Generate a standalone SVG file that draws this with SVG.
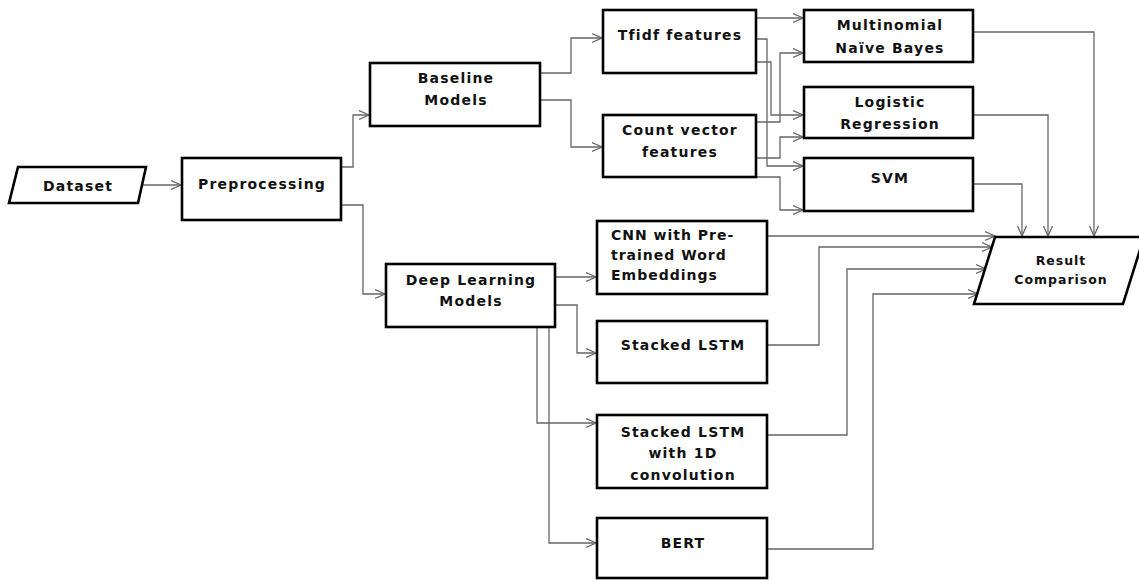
<svg xmlns="http://www.w3.org/2000/svg" width="1139" height="580" viewBox="0 0 1139 580">
<style>
.box{fill:#fff;stroke:#000;stroke-width:2.6}
.t{font-family:"DejaVu Sans","Open Sans",sans-serif;font-weight:bold;font-size:14px;letter-spacing:1.2px;fill:#111;text-anchor:middle}
.ts{font-size:12.5px;letter-spacing:1px}
.tl{text-anchor:start;letter-spacing:1px}
.c{fill:none;stroke:#666;stroke-width:1.3}
</style>
<defs>
<marker id="a" markerUnits="userSpaceOnUse" markerWidth="12" markerHeight="12" refX="10" refY="5" orient="auto" viewBox="0 0 12 10">
<path d="M0,0.5 L10,5 L0,9.5" fill="none" stroke="#666" stroke-width="1.3"/>
</marker>
</defs>
<g id="connectors">
<path class="c" marker-end="url(#a)" d="M140,185 H181"/>
<path class="c" marker-end="url(#a)" d="M341,167 H353 V115 H369"/>
<path class="c" marker-end="url(#a)" d="M341,205 H363 V294 H385"/>
<path class="c" marker-end="url(#a)" d="M540,73 H571 V38 H602"/>
<path class="c" marker-end="url(#a)" d="M540,100 H571 V147 H602"/>
<path class="c" marker-end="url(#a)" d="M756,18 H803"/>
<path class="c" marker-end="url(#a)" d="M756,39 H767 V166 H803"/>
<path class="c" marker-end="url(#a)" d="M756,62 H771 V115 H803"/>
<path class="c" marker-end="url(#a)" d="M756,122 H780 V53 H803"/>
<path class="c" marker-end="url(#a)" d="M756,158 H780 V137 H803"/>
<path class="c" marker-end="url(#a)" d="M756,177 H780 V210 H803"/>
<path class="c" marker-end="url(#a)" d="M973,32 H1094 V236"/>
<path class="c" marker-end="url(#a)" d="M973,115 H1048 V236"/>
<path class="c" marker-end="url(#a)" d="M973,184 H1022 V236"/>
<path class="c" marker-end="url(#a)" d="M555,277 H596"/>
<path class="c" marker-end="url(#a)" d="M555,305 H577 V353 H596"/>
<path class="c" marker-end="url(#a)" d="M537,327 V423 H596"/>
<path class="c" marker-end="url(#a)" d="M549,327 V543 H596"/>
<path class="c" marker-end="url(#a)" d="M767,236 H995"/>
<path class="c" marker-end="url(#a)" d="M767,345 H819 V247 H992"/>
<path class="c" marker-end="url(#a)" d="M767,435 H847 V269 H986"/>
<path class="c" marker-end="url(#a)" d="M767,549 H873 V294 H978"/>
</g>
<g id="dataset">
<polygon class="box" points="18,167 146,167 138,203 9,203"/>
<text class="t" x="78" y="191">Dataset</text>
</g>
<g id="preprocessing">
<rect class="box" x="182" y="158" width="159" height="62"/>
<text class="t" x="262" y="189">Preprocessing</text>
</g>
<g id="baseline">
<rect class="box" x="370" y="63" width="170" height="63"/>
<text class="t" x="456" y="83">Baseline</text>
<text class="t" x="456" y="105">Models</text>
</g>
<g id="deeplearning">
<rect class="box" x="386" y="264" width="169" height="63"/>
<text class="t" x="471" y="285">Deep Learning</text>
<text class="t" x="471" y="306">Models</text>
</g>
<g id="tfidf">
<rect class="box" x="603" y="10" width="153" height="63"/>
<text class="t" x="680" y="40">Tfidf features</text>
</g>
<g id="count">
<rect class="box" x="603" y="115" width="153" height="62"/>
<text class="t" x="680" y="135">Count vector</text>
<text class="t" x="680" y="157">features</text>
</g>
<g id="mnb">
<rect class="box" x="804" y="10" width="169" height="52"/>
<text class="t" x="890" y="30">Multinomial</text>
<text class="t" x="890" y="53">Naïve Bayes</text>
</g>
<g id="lr">
<rect class="box" x="804" y="87" width="169" height="51"/>
<text class="t" x="890" y="107">Logistic</text>
<text class="t" x="890" y="129">Regression</text>
</g>
<g id="svm">
<rect class="box" x="804" y="158" width="169" height="53"/>
<text class="t" x="890" y="183">SVM</text>
</g>
<g id="cnn">
<rect class="box" x="597" y="221" width="170" height="73"/>
<text class="t tl" x="611" y="240">CNN with Pre-</text>
<text class="t tl" x="611" y="260">trained Word</text>
<text class="t tl" x="611" y="280">Embeddings</text>
</g>
<g id="lstm">
<rect class="box" x="597" y="321" width="170" height="62"/>
<text class="t" x="683" y="350">Stacked LSTM</text>
</g>
<g id="lstm1d">
<rect class="box" x="597" y="415" width="170" height="73"/>
<text class="t" x="683" y="437">Stacked LSTM</text>
<text class="t" x="683" y="458">with 1D</text>
<text class="t" x="683" y="480">convolution</text>
</g>
<g id="bert">
<rect class="box" x="597" y="518" width="170" height="60"/>
<text class="t" x="683" y="548">BERT</text>
</g>
<g id="result">
<polygon class="box" points="995,237 1144,237 1123,304 974,304"/>
<text class="t ts" x="1061" y="265">Result</text>
<text class="t ts" x="1061" y="284">Comparison</text>
</g>
</svg>
